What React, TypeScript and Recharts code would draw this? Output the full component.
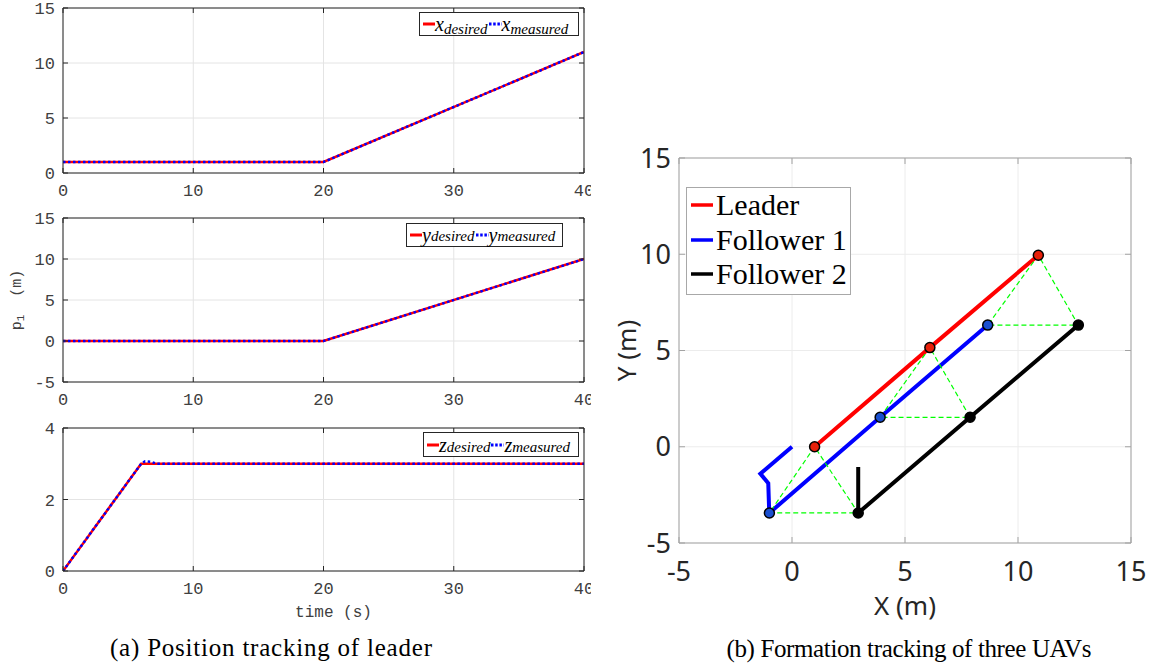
import React from 'react';
import {
  LineChart,
  ComposedChart,
  Line,
  Scatter,
  XAxis,
  YAxis,
  CartesianGrid,
  Legend,
  Label,
} from 'recharts';

// ---------------- (a) Position tracking of leader ----------------
const timeTicks = [0, 10, 20, 30, 40];
const xPosTicks = [0, 5, 10, 15];
const yPosTicks = [-5, 0, 5, 10, 15];
const zPosTicks = [0, 2, 4];

const timeX = [0, 20, 40];
const xDesired = [1, 1, 11];
const xMeasured = [1, 1, 11];

const timeY = [0, 20, 40];
const yDesired = [0, 0, 10];
const yMeasured = [0, 0, 10];

const timeZDesired = [0, 6, 40];
const zDesired = [0, 3, 3];
const timeZMeasured = [0, 6, 6.3, 6.8, 7.2, 40];
const zMeasured = [0, 3, 3.07, 3.05, 3, 3];

// ---------------- (b) Formation tracking of three UAVs ----------------
const formationTicks = [-5, 0, 5, 10, 15];

const leaderPathX = [1, 6.1, 10.9];
const leaderPathY = [0, 5.15, 9.95];
const follower1PathX = [0, -1.4, -1.05, -1.0, -1.0, 3.9, 8.66];
const follower1PathY = [0, -1.4, -1.9, -3.7, -3.44, 1.53, 6.32];
const follower2PathX = [2.93, 2.93, 2.93, 7.88, 12.67];
const follower2PathY = [-1.05, -3.7, -3.44, 1.53, 6.32];

const leaderMarkX = [1, 6.1, 10.9];
const leaderMarkY = [0, 5.15, 9.95];
const follower1MarkX = [-1.0, 3.9, 8.66];
const follower1MarkY = [-3.44, 1.53, 6.32];
const follower2MarkX = [2.93, 7.88, 12.67];
const follower2MarkY = [-3.44, 1.53, 6.32];

const seriesNames = ['Leader', 'Follower 1', 'Follower 2'];
const seriesColors = ['#ff0000', '#0000ff', '#000000'];

// ---------------- helpers ----------------
const toSeries = (ts: number[], vs: number[]) => ts.map((t, i) => ({ t, v: vs[i] }));
const toXY = (xs: number[], ys: number[]) => xs.map((x, i) => ({ x, y: ys[i] }));
const triangleAt = (i: number) => [
  { x: leaderMarkX[i], y: leaderMarkY[i] },
  { x: follower1MarkX[i], y: follower1MarkY[i] },
  { x: follower2MarkX[i], y: follower2MarkY[i] },
  { x: leaderMarkX[i], y: leaderMarkY[i] },
];

const MONO = '"Liberation Mono", "DejaVu Sans Mono", monospace';
const SERIF = '"Liberation Serif", "Times New Roman", serif';
const SANS = '"Noto Sans", "Open Sans", sans-serif';
const DARK = '#262626';
const TICKTXT = '#404040';
const GRID = '#e4e4e4';
const FRAME = '#a3a3a3';

const Empty = () => <g />;

const TrackLegend = ({ sym, subShift }: { sym: string; subShift: number }) => (
  <div
    style={{
      boxSizing: 'border-box',
      width: '100%',
      height: '100%',
      border: `1px solid ${DARK}`,
      background: '#fff',
      display: 'flex',
      alignItems: 'center',
      padding: '0 2px 0 2px',
      fontFamily: SERIF,
      fontStyle: 'italic',
      color: '#000',
      whiteSpace: 'nowrap',
      lineHeight: 1,
    }}
  >
    <svg width={13} height={8} style={{ flex: 'none' }}>
      <line x1={1} x2={13} y1={4} y2={4} stroke="#ff0000" strokeWidth={3} />
    </svg>
    <span style={{ fontSize: 20 }}>{sym}</span>
    <span style={{ fontSize: 15, position: 'relative', top: subShift }}>desired</span>
    <svg width={14} height={8} style={{ flex: 'none' }}>
      <line x1={1} x2={14} y1={4} y2={4} stroke="#0000ff" strokeWidth={3} strokeDasharray="2.5 1.7" />
    </svg>
    <span style={{ fontSize: 20 }}>{sym}</span>
    <span style={{ fontSize: 15, position: 'relative', top: subShift }}>measured</span>
  </div>
);

const PLabel = (props: any) => {
  const vb = props.viewBox || { x: 23, y: 13, width: 40, height: 164 };
  const cx = vb.x + vb.width / 2 - 26;
  const cy = vb.y + vb.height / 2;
  return (
    <text
      x={cx}
      y={cy}
      transform={`rotate(-90 ${cx} ${cy})`}
      textAnchor="middle"
      dominantBaseline="central"
      fill={TICKTXT}
      fontFamily={MONO}
      fontSize={15}
      style={{ whiteSpace: 'pre' }}
    >
      p
      <tspan fontSize={11} dy={4}>1</tspan>
      <tspan dy={-4}>{'  (m)'}</tspan>
    </text>
  );
};

type PanelProps = {
  top: number;
  height: number;
  marginTop: number;
  marginBottom: number;
  xAxisHeight: number;
  yDomain: [number, number];
  yTicks: number[];
  desired: { t: number; v: number }[];
  measured: { t: number; v: number }[];
  sym: string;
  subShift: number;
  legend: { left: number; top: number; width: number; height: number };
  showYLabel?: boolean;
  showXLabel?: boolean;
};

function TrackPanel(p: PanelProps) {
  return (
    <div style={{ position: 'absolute', left: 0, top: p.top, width: 591, height: p.height }}>
      <LineChart
        width={591}
        height={p.height}
        margin={{ top: p.marginTop, right: 6, bottom: p.marginBottom, left: 23 }}
      >
        <CartesianGrid xAxisId="b" yAxisId="l" stroke={GRID} fill="none" />
        <XAxis
          xAxisId="b"
          type="number"
          dataKey="t"
          domain={[0, 40]}
          ticks={timeTicks}
          allowDataOverflow
          interval={0}
          height={p.xAxisHeight}
          tickSize={-5}
          tickMargin={16}
          stroke={DARK}
          tick={{ fill: TICKTXT, fontSize: 17, fontFamily: MONO }}
        >
          {p.showXLabel ? (
            <Label
              value="time (s)"
              position="center"
              dx={10}
              dy={15}
              fill={TICKTXT}
              fontSize={16}
              fontFamily={MONO}
            />
          ) : null}
        </XAxis>
        <XAxis
          xAxisId="t"
          orientation="top"
          type="number"
          dataKey="t"
          domain={[0, 40]}
          ticks={timeTicks}
          allowDataOverflow
          interval={0}
          height={1}
          tickSize={-5}
          stroke={DARK}
          tick={Empty}
        />
        <YAxis
          yAxisId="l"
          type="number"
          domain={p.yDomain}
          ticks={p.yTicks}
          allowDataOverflow
          interval={0}
          width={40}
          tickSize={-5}
          tickMargin={13}
          stroke={DARK}
          tick={{ fill: TICKTXT, fontSize: 17, fontFamily: MONO }}
        >
          {p.showYLabel ? <Label content={PLabel} /> : null}
        </YAxis>
        <YAxis
          yAxisId="r"
          orientation="right"
          type="number"
          domain={p.yDomain}
          ticks={p.yTicks}
          allowDataOverflow
          interval={0}
          width={1}
          tickSize={-5}
          stroke={DARK}
          tick={Empty}
        />
        <Line
          xAxisId="b"
          yAxisId="l"
          data={p.desired}
          dataKey="v"
          stroke="#ff0000"
          strokeWidth={2.5}
          dot={false}
          isAnimationActive={false}
        />
        <Line
          xAxisId="b"
          yAxisId="l"
          data={p.measured}
          dataKey="v"
          stroke="#0000ff"
          strokeWidth={2.5}
          strokeDasharray="2.5 2.5"
          dot={false}
          isAnimationActive={false}
        />
        <Legend
          layout="vertical"
          align="center"
          verticalAlign="middle"
          wrapperStyle={{
            left: p.legend.left,
            top: p.legend.top,
            width: p.legend.width,
            height: p.legend.height,
            margin: 0,
            padding: 0,
          }}
          content={() => <TrackLegend sym={p.sym} subShift={p.subShift} />}
        />
      </LineChart>
    </div>
  );
}

const FormationLegend = () => (
  <div
    style={{
      boxSizing: 'border-box',
      width: '100%',
      height: '100%',
      border: '1px solid #a8a8a8',
      background: '#fff',
      fontFamily: SERIF,
      fontSize: 30,
      color: '#000',
      whiteSpace: 'nowrap',
    }}
  >
    {seriesNames.map((n, i) => (
      <div key={n} style={{ height: 34.5, display: 'flex', alignItems: 'center', paddingLeft: 4 }}>
        <svg width={22} height={6} style={{ flex: 'none' }}>
          <line x1={0} x2={22} y1={3} y2={3} stroke={seriesColors[i]} strokeWidth={3.5} />
        </svg>
        <span style={{ marginLeft: 3, lineHeight: 1 }}>{n}</span>
      </div>
    ))}
  </div>
);

const markerShape = (color: string) => (props: any) => (
  <circle cx={props.cx} cy={props.cy} r={5} fill={color} stroke="#000" strokeWidth={1.5} />
);

function FormationChart() {
  const leaderPath = toXY(leaderPathX, leaderPathY);
  const f1Path = toXY(follower1PathX, follower1PathY);
  const f2Path = toXY(follower2PathX, follower2PathY);
  const leaderMarks = toXY(leaderMarkX, leaderMarkY);
  const f1Marks = toXY(follower1MarkX, follower1MarkY);
  const f2Marks = toXY(follower2MarkX, follower2MarkY);
  const tickStyle = { fill: DARK, fontSize: 27, fontFamily: SANS };
  return (
    <div style={{ position: 'absolute', left: 580, top: 130, width: 576, height: 510 }}>
      <ComposedChart width={576} height={510} margin={{ top: 27, right: 24, bottom: 17, left: 39 }}>
        <CartesianGrid xAxisId="b" yAxisId="l" stroke="#ececec" fill="none" />
        <XAxis
          xAxisId="b"
          type="number"
          dataKey="x"
          domain={[-5, 15]}
          ticks={formationTicks}
          allowDataOverflow
          interval={0}
          height={80}
          tickSize={-6}
          tickMargin={25}
          stroke={FRAME}
          tick={tickStyle}
        >
          <Label value="X (m)" position="center" dy={23} fill={DARK} fontSize={26} fontFamily={SANS} />
        </XAxis>
        <XAxis
          xAxisId="t"
          orientation="top"
          type="number"
          dataKey="x"
          domain={[-5, 15]}
          ticks={formationTicks}
          allowDataOverflow
          interval={0}
          height={1}
          tickSize={-6}
          stroke={FRAME}
          tick={Empty}
        />
        <YAxis
          yAxisId="l"
          type="number"
          dataKey="y"
          domain={[-5, 15]}
          ticks={formationTicks}
          allowDataOverflow
          interval={0}
          width={60}
          tickSize={-6}
          tickMargin={14}
          stroke={FRAME}
          tick={tickStyle}
        >
          <Label value="Y (m)" angle={-90} position="center" dx={-22} fill={DARK} fontSize={26} fontFamily={SANS} />
        </YAxis>
        <YAxis
          yAxisId="r"
          orientation="right"
          type="number"
          dataKey="y"
          domain={[-5, 15]}
          ticks={formationTicks}
          allowDataOverflow
          interval={0}
          width={1}
          tickSize={-6}
          stroke={FRAME}
          tick={Empty}
        />
        <Line xAxisId="b" yAxisId="l" data={leaderPath} dataKey="y" stroke={seriesColors[0]} strokeWidth={4} dot={false} isAnimationActive={false} />
        <Line xAxisId="b" yAxisId="l" data={f1Path} dataKey="y" stroke={seriesColors[1]} strokeWidth={4} dot={false} isAnimationActive={false} />
        <Line xAxisId="b" yAxisId="l" data={f2Path} dataKey="y" stroke={seriesColors[2]} strokeWidth={4} dot={false} isAnimationActive={false} />
        <Scatter xAxisId="b" yAxisId="l" data={leaderMarks} dataKey="y" shape={markerShape('#e8200a')} isAnimationActive={false} />
        <Scatter xAxisId="b" yAxisId="l" data={f1Marks} dataKey="y" shape={markerShape('#1a4fd0')} isAnimationActive={false} />
        <Scatter xAxisId="b" yAxisId="l" data={f2Marks} dataKey="y" shape={markerShape('#000000')} isAnimationActive={false} />
        {[0, 1, 2].map((i) => (
          <Line
            key={`tri${i}`}
            xAxisId="b"
            yAxisId="l"
            data={triangleAt(i)}
            dataKey="y"
            stroke="#00ff00"
            strokeWidth={1.2}
            strokeDasharray="5 3"
            dot={false}
            isAnimationActive={false}
          />
        ))}
        <Legend
          layout="vertical"
          align="center"
          verticalAlign="middle"
          wrapperStyle={{ left: 106, top: 57, width: 165, height: 108, margin: 0, padding: 0 }}
          content={() => <FormationLegend />}
        />
      </ComposedChart>
    </div>
  );
}

export default function App() {
  return (
    <div
      style={{
        position: 'absolute',
        left: 0,
        top: 0,
        width: 1156,
        height: 670,
        background: '#fff',
        overflow: 'hidden',
      }}
    >
      <TrackPanel
        top={0}
        height={210}
        marginTop={7}
        marginBottom={7}
        xAxisHeight={30}
        yDomain={[0, 15]}
        yTicks={xPosTicks}
        desired={toSeries(timeX, xDesired)}
        measured={toSeries(timeX, xMeasured)}
        sym="x"
        subShift={5}
        legend={{ left: 419, top: 12, width: 160, height: 24 }}
      />
      <TrackPanel
        top={205}
        height={210}
        marginTop={12}
        marginBottom={3}
        xAxisHeight={30}
        yDomain={[-5, 15]}
        yTicks={yPosTicks}
        desired={toSeries(timeY, yDesired)}
        measured={toSeries(timeY, yMeasured)}
        sym="y"
        subShift={1}
        legend={{ left: 406, top: 18, width: 157, height: 24 }}
        showYLabel
      />
      <TrackPanel
        top={415}
        height={215}
        marginTop={12}
        marginBottom={9}
        xAxisHeight={50}
        yDomain={[0, 4]}
        yTicks={zPosTicks}
        desired={toSeries(timeZDesired, zDesired)}
        measured={toSeries(timeZMeasured, zMeasured)}
        sym="z"
        subShift={3}
        legend={{ left: 423, top: 17, width: 156, height: 25 }}
        showXLabel
      />
      <FormationChart />
      <svg
        width={1156}
        height={40}
        style={{ position: 'absolute', left: 0, top: 630 }}
      >
        <text x={271} y={26} textAnchor="middle" fontFamily={SERIF} fontSize={25} fill="#000" textLength={322} lengthAdjust="spacing">
          (a) Position tracking of leader
        </text>
        <text x={909} y={27} textAnchor="middle" fontFamily={SERIF} fontSize={25} fill="#000" textLength={365} lengthAdjust="spacing">
          (b) Formation tracking of three UAVs
        </text>
      </svg>
    </div>
  );
}
